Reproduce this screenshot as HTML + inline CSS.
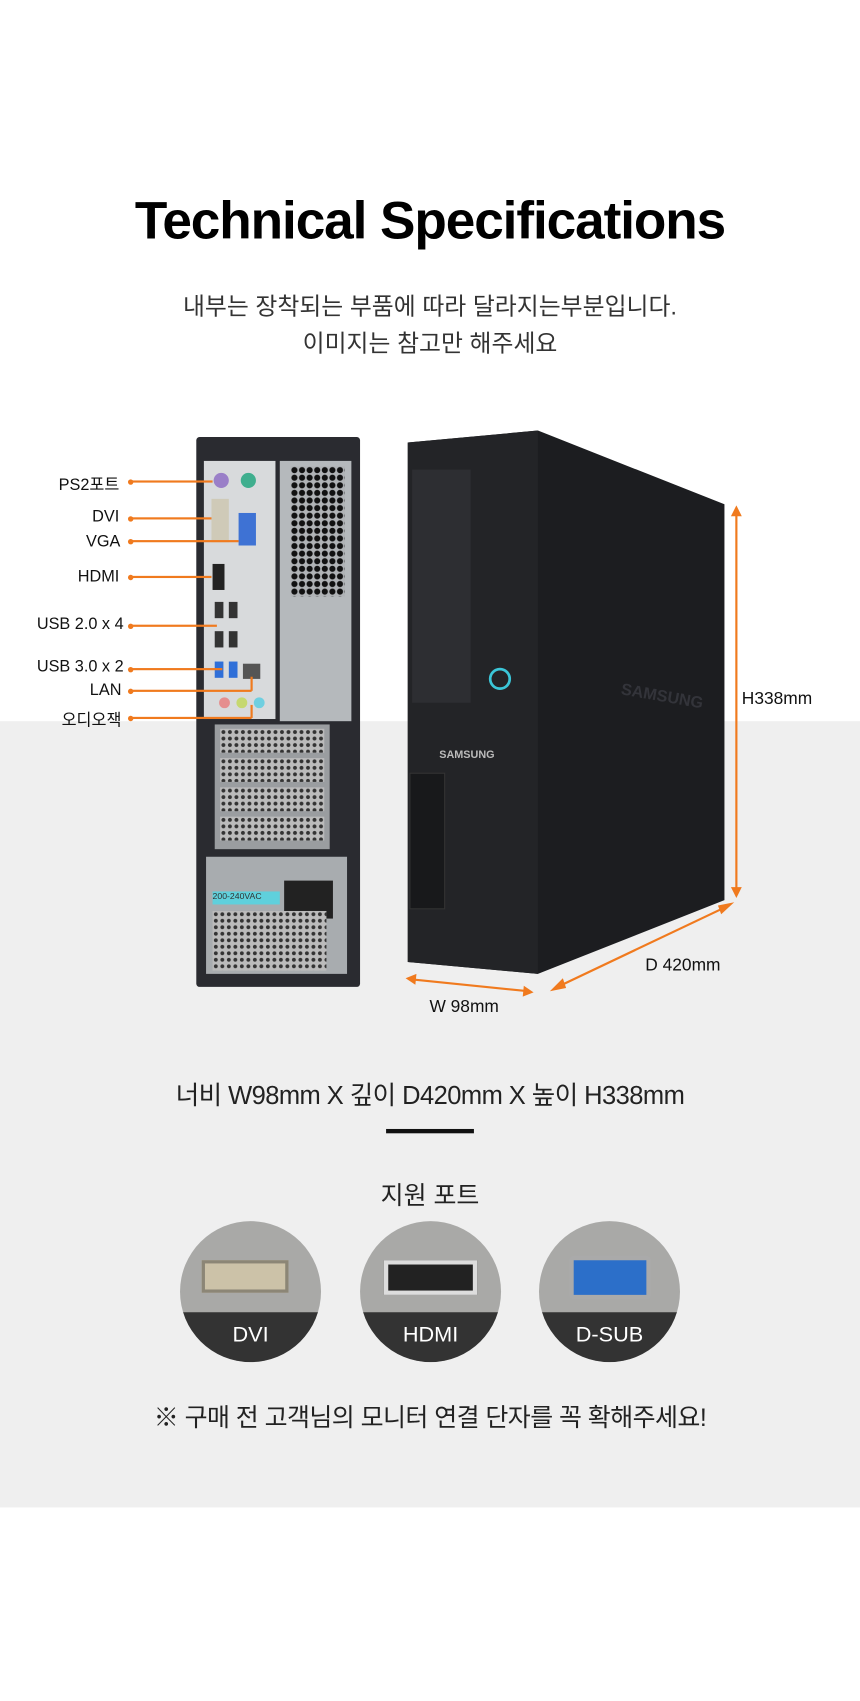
<!DOCTYPE html>
<html><head><meta charset="utf-8"><style>
*{margin:0;padding:0;box-sizing:border-box}
html,body{width:860px;height:1700px;overflow:hidden;background:#fff}
#w{position:absolute;left:0;top:0;width:793px;height:1568px;transform:scale(1.0845);transform-origin:0 0;font-family:"Liberation Sans","Noto Sans CJK KR",sans-serif;color:#222}
.a{position:absolute}
.t{position:absolute;white-space:nowrap}
.lbl{position:absolute;font-size:15px;color:#111;white-space:nowrap;text-align:right;width:110px;left:0}
.ln{position:absolute;height:2px;background:#f07a1e}
.dot{position:absolute;width:5px;height:5px;border-radius:50%;background:#f07a1e}
.c{position:absolute;width:130px;height:130px;border-radius:50%;overflow:hidden;background:#a9a9a7;top:1126px}
.c .b{position:absolute;left:0;right:0;top:84px;bottom:0;background:#333;color:#fff;font-size:20px;text-align:center;padding-top:10px}
.holes{background:radial-gradient(circle,#111 0 2.6px,transparent 3px) 0 0/7px 7px,#b0b3b6}
.sh{background:radial-gradient(circle,#333 0 1.6px,transparent 2px) 0 0/6px 6px,#bbb}
</style></head><body><div id="w">
<div class="a" style="left:0;top:665px;width:793px;height:725px;background:#efefef"></div>
<div class="t" style="left:0;width:793px;text-align:center;top:176px;font-size:49px;font-weight:bold;color:#000;letter-spacing:-1px">Technical Specifications</div>
<div class="t" style="left:0;width:793px;text-align:center;top:266px;font-size:22px;line-height:34px;color:#333">내부는 장착되는 부품에 따라 달라지는부분입니다.<br>이미지는 참고만 해주세요</div>

<div class="a" style="left:181px;top:403px;width:151px;height:507px;background:#2a2b30;border-radius:3px"></div>
<div class="a" style="left:188px;top:425px;width:66px;height:238px;background:#d8dadc"></div>
<div class="a" style="left:258px;top:425px;width:66px;height:240px;background:#b5b9bc"></div>
<div class="a holes" style="left:268px;top:430px;width:50px;height:120px"></div>
<div class="a" style="left:198px;top:668px;width:106px;height:115px;background:#9a9da0"></div>
<div class="a sh" style="left:203px;top:672px;width:96px;height:22px"></div>
<div class="a sh" style="left:203px;top:699px;width:96px;height:22px"></div>
<div class="a sh" style="left:203px;top:726px;width:96px;height:22px"></div>
<div class="a sh" style="left:203px;top:753px;width:96px;height:22px"></div>
<div class="a" style="left:190px;top:790px;width:130px;height:108px;background:#a8acaf"></div>
<div class="a" style="left:196px;top:822px;width:62px;height:12px;background:#5fd0dc;font-size:8px;color:#333">200-240VAC</div>
<div class="a" style="left:262px;top:812px;width:45px;height:35px;background:#222"></div>
<div class="a sh" style="left:196px;top:840px;width:105px;height:55px"></div>
<div class="a" style="left:197px;top:436px;width:14px;height:14px;border-radius:50%;background:#9a7fc8"></div>
<div class="a" style="left:222px;top:436px;width:14px;height:14px;border-radius:50%;background:#3fae8e"></div>
<div class="a" style="left:195px;top:460px;width:16px;height:40px;background:#cfcab8"></div>
<div class="a" style="left:220px;top:473px;width:16px;height:30px;background:#3e72d4"></div>
<div class="a" style="left:196px;top:520px;width:11px;height:24px;background:#222"></div>
<div class="a" style="left:198px;top:555px;width:8px;height:15px;background:#333"></div><div class="a" style="left:211px;top:555px;width:8px;height:15px;background:#333"></div>
<div class="a" style="left:198px;top:582px;width:8px;height:15px;background:#333"></div><div class="a" style="left:211px;top:582px;width:8px;height:15px;background:#333"></div>
<div class="a" style="left:198px;top:610px;width:8px;height:15px;background:#2f6fd8"></div><div class="a" style="left:211px;top:610px;width:8px;height:15px;background:#2f6fd8"></div>
<div class="a" style="left:224px;top:612px;width:16px;height:14px;background:#555"></div>
<div class="a" style="left:202px;top:643px;width:10px;height:10px;border-radius:50%;background:#e58e8e"></div>
<div class="a" style="left:218px;top:643px;width:10px;height:10px;border-radius:50%;background:#c6d870"></div>
<div class="a" style="left:234px;top:643px;width:10px;height:10px;border-radius:50%;background:#6fcfe0"></div>

<div class="lbl" style="top:436px">PS2포트</div><div class="dot" style="left:118px;top:442px"></div><div class="ln" style="left:120px;top:443px;width:76px"></div>
<div class="lbl" style="top:468px">DVI</div><div class="dot" style="left:118px;top:476px"></div><div class="ln" style="left:120px;top:477px;width:75px"></div>
<div class="lbl" style="top:491px;width:111px">VGA</div><div class="dot" style="left:118px;top:497px"></div><div class="ln" style="left:120px;top:498px;width:100px"></div>
<div class="lbl" style="top:523px">HDMI</div><div class="dot" style="left:118px;top:530px"></div><div class="ln" style="left:120px;top:531px;width:75px"></div>
<div class="lbl" style="top:567px;width:114px">USB 2.0 x 4</div><div class="dot" style="left:118px;top:575px"></div><div class="ln" style="left:120px;top:576px;width:80px"></div>
<div class="lbl" style="top:606px;width:114px">USB 3.0 x 2</div><div class="dot" style="left:118px;top:615px"></div><div class="ln" style="left:120px;top:616px;width:85px"></div>
<div class="lbl" style="top:628px;width:112px">LAN</div><div class="dot" style="left:118px;top:635px"></div><div class="ln" style="left:120px;top:636px;width:112px"></div><div class="a" style="left:231px;top:624px;width:2px;height:13px;background:#f07a1e"></div>
<div class="lbl" style="top:653px;width:112px">오디오잭</div><div class="dot" style="left:118px;top:660px"></div><div class="ln" style="left:120px;top:661px;width:112px"></div><div class="a" style="left:231px;top:650px;width:2px;height:12px;background:#f07a1e"></div>

<svg class="a" style="left:370px;top:390px" width="310" height="520">
<polygon points="6,18 126,7 298,75 298,440 126,508 6,497" fill="#1c1d20"/>
<polygon points="6,18 126,7 126,508 6,497" fill="#232427"/>
<rect x="10" y="43" width="54" height="215" fill="#2d2e32"/>
<circle cx="91" cy="236" r="9" fill="none" stroke="#3bc6d8" stroke-width="2.5"/>
<rect x="8" y="323" width="32" height="125" fill="#18191b" stroke="#333"/>
<text x="35" y="309" font-family="Liberation Sans" font-size="10" font-weight="bold" fill="#bbb">SAMSUNG</text>
<text x="202" y="250" font-family="Liberation Sans" font-size="15" font-weight="bold" fill="#33343a" transform="rotate(10 202 250)">SAMSUNG</text>
</svg>

<svg class="a" style="left:0;top:0" width="793" height="1000">
<g stroke="#f07a1e" stroke-width="2" fill="#f07a1e">
<line x1="679" y1="472" x2="679" y2="822"/>
<polygon points="679,466 674,476 684,476" stroke="none"/><polygon points="679,828 674,818 684,818" stroke="none"/>
<line x1="512" y1="911" x2="672" y2="835"/>
<polygon points="507,914 519,902 522,911" stroke="none"/><polygon points="677,832 665,843 662,835" stroke="none"/>
<line x1="379" y1="903" x2="487" y2="914"/>
<polygon points="374,902 384,898 383,908" stroke="none"/><polygon points="492,915 482,919 483,909" stroke="none"/>
</g></svg>
<div class="t" style="left:684px;top:636px;font-size:16px;color:#111">H338mm</div>
<div class="t" style="left:595px;top:882px;font-size:16px;color:#111">D 420mm</div>
<div class="t" style="left:396px;top:920px;font-size:16px;color:#111">W 98mm</div>

<div class="t" style="left:0;width:793px;text-align:center;top:991px;font-size:23.5px;color:#222;letter-spacing:-0.5px">너비 W98mm X 깊이 D420mm X 높이 H338mm</div>
<div class="a" style="left:356px;top:1041px;width:81px;height:4px;background:#111"></div>
<div class="t" style="left:0;width:793px;text-align:center;top:1083px;font-size:23px;color:#222">지원 포트</div>

<div class="c" style="left:166px"><div class="a" style="left:20px;top:36px;width:80px;height:30px;background:#ccc2a8;border:3px solid #8c8676"></div><div class="b">DVI</div></div>
<div class="c" style="left:332px"><div class="a" style="left:22px;top:36px;width:86px;height:32px;background:#222;border:4px solid #ddd"></div><div class="b">HDMI</div></div>
<div class="c" style="left:497px"><div class="a" style="left:28px;top:32px;width:75px;height:40px;background:#2c6fc9;border:4px solid #aaa;border-radius:4px"></div><div class="b">D-SUB</div></div>

<div class="t" style="left:0;width:793px;text-align:center;top:1288px;font-size:23px;color:#222;letter-spacing:-0.5px">※ 구매 전 고객님의 모니터 연결 단자를 꼭 확해주세요!</div>
</div></body></html>
